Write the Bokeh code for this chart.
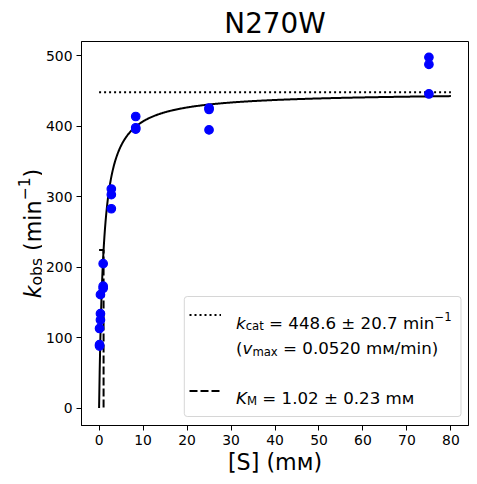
import numpy as np
from bokeh.plotting import figure
from bokeh.layouts import row
from bokeh.models import Range1d, Label, BoxAnnotation, Legend, LegendItem
from bokeh.embed import file_html
from bokeh.resources import INLINE

# ---------------- data ----------------
title_text = "N270W"
x_label = "[S] (mᴍ)"
S_mM = [75, 75, 75, 25, 25, 25, 8.33, 8.33, 8.33, 2.78, 2.78, 2.78,
        0.926, 0.926, 0.926, 0.309, 0.309, 0.309, 0.103, 0.103, 0.103]
k_obs = [498, 488, 446, 426, 424, 395, 414, 398, 396, 311, 303, 283,
         205, 173, 170, 161, 134, 125, 113, 90, 88]
kcat = 448.6
kcat_err = 20.7
vmax = 0.0520
KM = 1.02
KM_err = 0.23
S_fit_max = 80
x_ticks = [0, 10, 20, 30, 40, 50, 60, 70, 80]
y_ticks = [0, 100, 200, 300, 400, 500]

# fitted Michaelis-Menten curve from the fit parameters
S_fit = np.linspace(0, S_fit_max, 600)
k_fit = kcat * S_fit / (KM + S_fit)

FONT = "DejaVu Sans"
H = 483
LEFT_W = 42
TOP, BOTTOM = 41, 58

p = figure(width=434, height=H,
           x_range=Range1d(-4, 84), y_range=Range1d(-24.8, 520.5),
           output_backend="svg", toolbar_location=None,
           min_border_left=38, min_border_right=8,
           min_border_top=TOP, min_border_bottom=BOTTOM)
p.background_fill_color = "white"
p.border_fill_color = "white"
p.outline_line_color = "black"
p.outline_line_width = 1
p.grid.grid_line_color = None

p.title.text = title_text
p.title.align = "center"
p.title.text_font = FONT
p.title.text_font_size = "27.8px"
p.title.text_font_style = "normal"
p.title.text_color = "black"
p.title.standoff = 3

p.xaxis.ticker = x_ticks
p.yaxis.ticker = y_ticks
for ax in (p.xaxis, p.yaxis):
    ax.major_label_text_font = FONT
    ax.major_label_text_font_size = "13.9px"
    ax.major_label_text_color = "black"
    ax.major_tick_out = 5
    ax.major_tick_in = 0
    ax.major_tick_line_color = "black"
    ax.major_tick_line_width = 1
    ax.minor_tick_line_color = None
    ax.axis_line_color = "black"
    ax.axis_line_width = 1
    ax.major_label_standoff = 4
p.xaxis.axis_label = x_label
p.xaxis.axis_label_text_font = FONT
p.xaxis.axis_label_text_font_size = "22.2px"
p.xaxis.axis_label_text_font_style = "normal"
p.xaxis.axis_label_text_color = "black"
p.xaxis.axis_label_standoff = 1

fit_r = p.line(S_fit, k_fit, line_color="black", line_width=2)
kcat_r = p.line([S_fit[0], S_fit[-1]], [kcat, kcat], line_color="black",
                line_width=2, line_dash="2 3")
km_r = p.line([0, KM, KM], [kcat / 2, kcat / 2, 0], line_color="black",
              line_width=2, line_dash="8 3")
pts = p.scatter(S_mM, k_obs, size=8.5, fill_color="blue", line_color="blue",
                line_width=1.2)

# ---- legend box ----
box = BoxAnnotation(left=102.8, right=379.5, bottom=9, top=129,
                    left_units="screen", right_units="screen",
                    top_units="screen", bottom_units="screen",
                    fill_color="white", fill_alpha=0.8,
                    line_color="#cccccc", line_alpha=0.8, line_width=1,
                    border_radius=3)
p.add_layout(box)

legend = Legend(items=[LegendItem(label=" ", renderers=[kcat_r]),
                       LegendItem(label=" ", renderers=[km_r])],
                location=(107.5, 23.5), glyph_width=32, glyph_height=23,
                label_height=23, spacing=53, padding=0, margin=0,
                border_line_alpha=0, background_fill_alpha=0,
                label_text_font_size="1px", label_standoff=0, label_width=1)
p.add_layout(legend, "center")

# ---- rich text helper ----
W = {' ': 651, '(': 800, ')': 800, '.': 651, '/': 690, '=': 1716, '±': 1716,
     '−': 1716, '[': 800, ']': 800, 'S': 1300, 'N': 1532, 'W': 2025,
     'K': 1343, 'M': 1767, 'a': 1255, 'b': 1300, 'c': 1126, 'i': 569,
     'k': 1186, 'm': 1995, 'n': 1298, 'o': 1253, 's': 1067, 't': 803,
     'v': 1212, 'x': 1212, 'ᴍ': 1510}
for d in "0123456789":
    W[d] = 1303


def tw(text, size):
    return sum(W.get(c, 1300) for c in text) / 2048.0 * size


def rich(fig, pieces, x0, y0, rotated=False):
    pos = 0.0
    for text, size, style, shift in pieces:
        core = text.strip(" ")
        lead = len(text) - len(text.lstrip(" "))
        trail = len(text) - len(text.rstrip(" "))
        pos += tw(" " * lead, size)
        if rotated:
            x, y, ang = x0 + shift, y0 + pos, np.pi / 2
        else:
            x, y, ang = x0 + pos, y0 - shift, 0
        fig.add_layout(Label(x=x, y=y, x_units="screen", y_units="screen",
                             text=core, angle=ang, text_font=FONT,
                             text_font_size=f"{size}px", text_font_style=style,
                             text_color="black", text_align="left",
                             text_baseline="alphabetic"))
        pos += tw(core, size) + tw(" " * trail, size)


L, Ls = 16.67, 11.67
rich(p, [("k", L, "italic", 0), ("cat", Ls, "normal", 0.2 * L),
         (f" = {kcat:.1f} ± {kcat_err:.1f} min", L, "normal", 0),
         ("−1", Ls, "normal", -0.39 * L)],
     154.5, 102.5)
rich(p, [("(", L, "normal", 0), ("v", L, "italic", 0),
         ("max", Ls, "normal", 0.2 * L),
         (f" = {vmax:.4f} mᴍ/min)", L, "normal", 0)],
     154.5, 77)
rich(p, [("K", L, "italic", 0), ("M", Ls, "normal", 0.2 * L),
         (f" = {KM:.2f} ± {KM_err:.2f} mᴍ", L, "normal", 0)],
     154.5, 27.5)

# ---- y-axis label in a narrow side figure (rotated rich text) ----
pl = figure(width=LEFT_W, height=H, x_range=Range1d(0, 1), y_range=Range1d(0, 1),
            output_backend="svg", toolbar_location=None,
            min_border_left=0, min_border_right=0,
            min_border_top=TOP, min_border_bottom=BOTTOM,
            x_axis_location=None, y_axis_location=None)
pl.outline_line_color = None
pl.grid.grid_line_color = None
pl.background_fill_color = "white"
pl.border_fill_color = "white"

A, As = 22.2, 15.54
rich(pl, [("k", A, "italic", 0), ("obs", As, "normal", 0.22 * A),
          (" (min", A, "normal", 0), ("−1", As, "normal", -0.39 * A),
          (")", A, "normal", 0)],
     32, (H - BOTTOM) - 297.8, rotated=True)

layout = row(pl, p)
open("out.html", "w").write(file_html(layout, INLINE))
